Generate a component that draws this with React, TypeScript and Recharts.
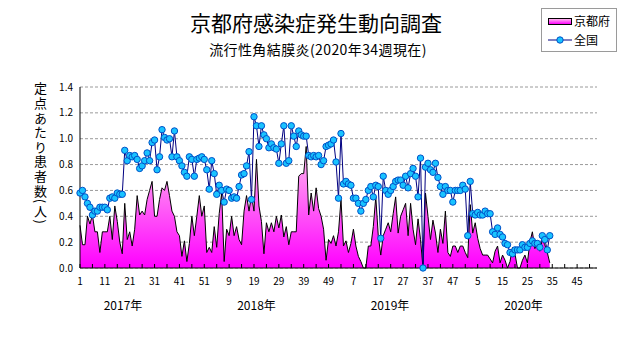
import React from "react";
import {
  ComposedChart,
  Area,
  Line,
  XAxis,
  YAxis,
  CartesianGrid,
} from "recharts";

// 京都府 (定点あたり), 週ごと
const kyoto2017 = [
  0.33, 0.18, 0.18, 0.4, 0.34, 0.41, 0.28, 0.28, 0.12, 0.28, 0.28, 0.28, 0.4,
  0.22, 0.48, 0.36, 0.2, 0.11, 0.5, 0.22, 0.28, 0.17, 0.3, 0.56, 0.41, 0.44,
  0.41, 0.53, 0.6, 0.67, 0.4, 0.4, 0.53, 0.62, 0.6, 0.67, 0.56, 0.44, 0.4,
  0.28, 0.25, 0.09, 0.21, 0.05, 0.19, 0.4, 0.25, 0.4, 0.56, 0.4, 0.48, 0.12,
];
const kyoto2018 = [
  0.16, 0.12, 0.32, 0.16, 0.42, 0.58, 0.05, 0.3, 0.25, 0.4, 0.25, 0.32, 0.22,
  0.18, 0.44, 0.56, 0.44, 0.56, 0.44, 0.84, 0.48, 0.36, 0.11, 0.35, 0.28, 0.35,
  0.28, 0.4, 0.31, 0.41, 0.24, 0.32, 0.18, 0.28, 0.28, 0.28, 0.71, 0.73, 0.73,
  0.94, 0.41, 0.58, 0.44, 0.62, 0.46, 0.4, 0.3, 0.06, 0.22, 0.19, 0.25, 0.17,
];
const kyoto2019 = [
  0.28, 0.53, 0.17, 0.21, 0.12, 0.19, 0.3, 0.17, 0.09, 0.05, 0, 0, 0.17, 0.17,
  0.32, 0.55, 0.25, 0.1, 0.25, 0.3, 0.35, 0.28, 0.42, 0.55, 0.27, 0.4, 0.45,
  0.5, 0.25, 0.5, 0.3, 0.18, 0.38, 0.22, 0, 0.58, 0.4, 0.22, 0.37, 0.27, 0.12,
  0.3, 0.19, 0.44, 0.12, 0.09, 0.17, 0.17, 0.12, 0.17, 0.17, 0.12,
];
const kyoto2020 = [
  0.08, 0.49, 0.27, 0.35, 0.23, 0.15, 0.1, 0.1, 0.1, 0.07, 0.04, 0.13, 0.17,
  0.04, 0.1, 0.06, 0, 0.05, 0.16, 0.11, 0, 0, 0.06, 0.1, 0.04, 0.2, 0.28, 0.15,
  0.2, 0.13, 0.22, 0.18, 0.12, 0.04,
];

// 全国
const national2017 = [
  0.58, 0.6, 0.55, 0.5, 0.47, 0.41, 0.44, 0.44, 0.47, 0.47, 0.47, 0.45, 0.54,
  0.55, 0.54, 0.58, 0.57, 0.57, 0.91, 0.83, 0.87, 0.86, 0.87, 0.84, 0.77, 0.79,
  0.83, 0.89, 0.83, 0.97, 0.99, 0.76, 0.86, 1.07, 1.01, 0.99, 1.0, 0.86, 1.06,
  0.86, 0.83, 0.79, 0.74, 0.71, 0.86, 0.84, 0.71, 0.84, 0.85, 0.86, 0.84, 0.76,
];
const national2018 = [
  0.61, 0.83, 0.73, 0.57, 0.64, 0.6, 0.51, 0.61, 0.6, 0.54, 0.55, 0.54, 0.63,
  0.72, 0.73, 0.79, 0.9, 0.53, 1.17, 1.1, 0.94, 1.1, 1.03, 1.0, 0.93, 0.96,
  0.93, 0.92, 0.81, 0.96, 1.1, 0.81, 0.83, 1.1, 1.02, 0.94, 1.06, 1.03, 1.02,
  1.02, 0.87, 0.86, 0.87, 0.86, 0.87, 0.8, 0.83, 0.94, 0.95, 0.96, 0.99, 0.82,
];
const national2019 = [
  0.54, 1.04, 0.65, 0.67, 0.65, 0.64, 0.54, 0.54, 0.5, 0.44, 0.5, 0.53, 0.6,
  0.63, 0.55, 0.64, 0.63, 0.23, 0.71, 0.6, 0.57, 0.6, 0.63, 0.67, 0.68, 0.68,
  0.64, 0.71, 0.62, 0.73, 0.77, 0.71, 0.55, 0.85, 0.0, 0.78, 0.81, 0.76, 0.74,
  0.81, 0.7, 0.63, 0.57, 0.63, 0.6, 0.6, 0.51, 0.6, 0.6, 0.6, 0.64, 0.61,
];
const national2020 = [
  0.25, 0.67, 0.42, 0.41, 0.43, 0.41, 0.41, 0.44, 0.42, 0.42, 0.28, 0.26, 0.31,
  0.26, 0.24, 0.19, 0.18, 0.12, 0.11, 0.14, 0.14, 0.14, 0.18, 0.16, 0.16, 0.19,
  0.21, 0.19, 0.19, 0.16, 0.25, 0.22, 0.14, 0.25,
];

const weeksPerYear = [52, 52, 52, 53];
const years = ["2017年", "2018年", "2019年", "2020年"];
const weekLabels = [
  "1", "11", "21", "31", "41", "51", "9", "19", "29", "39", "49",
  "7", "17", "27", "37", "47", "5", "15", "25", "35", "45",
];
const yTicks = [0, 0.2, 0.4, 0.6, 0.8, 1.0, 1.2, 1.4];

const kyoto = [...kyoto2017, ...kyoto2018, ...kyoto2019, ...kyoto2020];
const national = [
  ...national2017,
  ...national2018,
  ...national2019,
  ...national2020,
];
const totalWeeks = weeksPerYear.reduce((a, b) => a + b, 0);
const rows = Array.from({ length: totalWeeks }, (_, i) => ({
  i,
  kyoto: i < kyoto.length ? kyoto[i] : null,
  national: i < national.length ? national[i] : null,
}));

const labelIdx = weekLabels.map((_, k) => k * 10);
const minorTicks = Array.from({ length: 42 }, (_, k) => k * 5);

const FONT = '"Noto Sans CJK JP", sans-serif';

function WeekTick(props: any) {
  const { x, y, payload } = props;
  const k = labelIdx.indexOf(payload.value);
  return (
    <g>
      <line x1={x} y1={y} x2={x} y2={y - 4} stroke="#000" />
      {k >= 0 && (
        <text
          x={x}
          y={y + 17}
          textAnchor="middle"
          fontSize={10}
          fill="#000"
          fontFamily={FONT}
        >
          {weekLabels[k]}
        </text>
      )}
    </g>
  );
}

export default function App() {
  return (
    <div
      style={{
        position: "absolute",
        left: 0,
        top: 0,
        width: 631,
        height: 347,
        background: "#fff",
        fontFamily: FONT,
        color: "#000",
      }}
    >
      <div
        style={{
          position: "absolute",
          left: 0,
          top: 8,
          width: 632,
          textAlign: "center",
          fontSize: 21,
          lineHeight: "28px",
        }}
      >
        京都府感染症発生動向調査
      </div>
      <div
        style={{
          position: "absolute",
          left: 0,
          top: 40,
          width: 636,
          textAlign: "center",
          fontSize: 14,
          letterSpacing: 0.4,
          lineHeight: "18px",
        }}
      >
        流行性角結膜炎(2020年34週現在)
      </div>

      {/* 凡例 */}
      <div
        style={{
          position: "absolute",
          left: 541,
          top: 8,
          width: 74,
          height: 42,
          border: "1px solid #9a9a9a",
          fontSize: 12,
          lineHeight: "14px",
        }}
      >
        <div style={{ position: "absolute", left: 6, top: 5, display: "flex", alignItems: "center" }}>
          <div
            style={{
              width: 22,
              height: 5,
              border: "1px solid #000",
              background: "linear-gradient(#ffb8ee, #ff00ff)",
              marginRight: 2,
            }}
          />
          <span>京都府</span>
        </div>
        <div style={{ position: "absolute", left: 6, top: 24, display: "flex", alignItems: "center" }}>
          <svg width={24} height={10} style={{ marginRight: 2 }}>
            <line x1={0} y1={5} x2={24} y2={5} stroke="#000080" />
            <circle cx={12} cy={5} r={3.2} fill="#19c3ff" stroke="#0050c8" />
          </svg>
          <span>全国</span>
        </div>
      </div>

      {/* 縦軸タイトル */}
      <div
        style={{
          position: "absolute",
          left: 33,
          top: 82,
          writingMode: "vertical-rl",
          fontSize: 13,
          letterSpacing: 1.6,
          lineHeight: "14px",
        }}
      >
        定点あたり患者数(人)
      </div>

      <ComposedChart
        width={631}
        height={347}
        data={rows}
        margin={{ top: 87, right: 34, bottom: 49, left: 30 }}
        style={{ position: "absolute", left: 0, top: 0 }}
      >
        <defs>
          <linearGradient id="kyotoFill" x1="0" y1="0" x2="0" y2="1">
            <stop offset="0%" stopColor="#ffbcef" />
            <stop offset="100%" stopColor="#ff00ff" />
          </linearGradient>
        </defs>
        <CartesianGrid
          horizontal
          vertical={false}
          stroke="#9a9a9a"
          strokeDasharray="3 2"
        />
        <XAxis
          dataKey="i"
          type="number"
          domain={[0, totalWeeks - 1]}
          ticks={minorTicks}
          interval={0}
          tick={<WeekTick />}
          tickLine={false}
          tickSize={0}
          tickMargin={0}
          axisLine={{ stroke: "#000" }}
          height={30}
        />
        <YAxis
          domain={[0, 1.4]}
          ticks={yTicks}
          tickFormatter={(v: number) => v.toFixed(1)}
          tick={{ fontSize: 10, fill: "#000", fontFamily: FONT }}
          tickLine={false}
          tickSize={0}
          tickMargin={7}
          axisLine={{ stroke: "#000" }}
          width={50}
        />
        <Area
          type="linear"
          dataKey="kyoto"
          stroke="#000"
          strokeWidth={1}
          fill="url(#kyotoFill)"
          fillOpacity={1}
          isAnimationActive={false}
          dot={false}
          activeDot={false}
        />
        <Line
          type="linear"
          dataKey="national"
          stroke="#000080"
          strokeWidth={1}
          dot={{ r: 3.2, fill: "#19c3ff", stroke: "#0050c8", strokeWidth: 1 }}
          activeDot={false}
          isAnimationActive={false}
        />
      </ComposedChart>

      {years.map((y, k) => (
        <div
          key={y}
          style={{
            position: "absolute",
            left: 93 + k * 133.5,
            top: 297,
            width: 60,
            textAlign: "center",
            fontSize: 12,
            lineHeight: "16px",
          }}
        >
          {y}
        </div>
      ))}
    </div>
  );
}
